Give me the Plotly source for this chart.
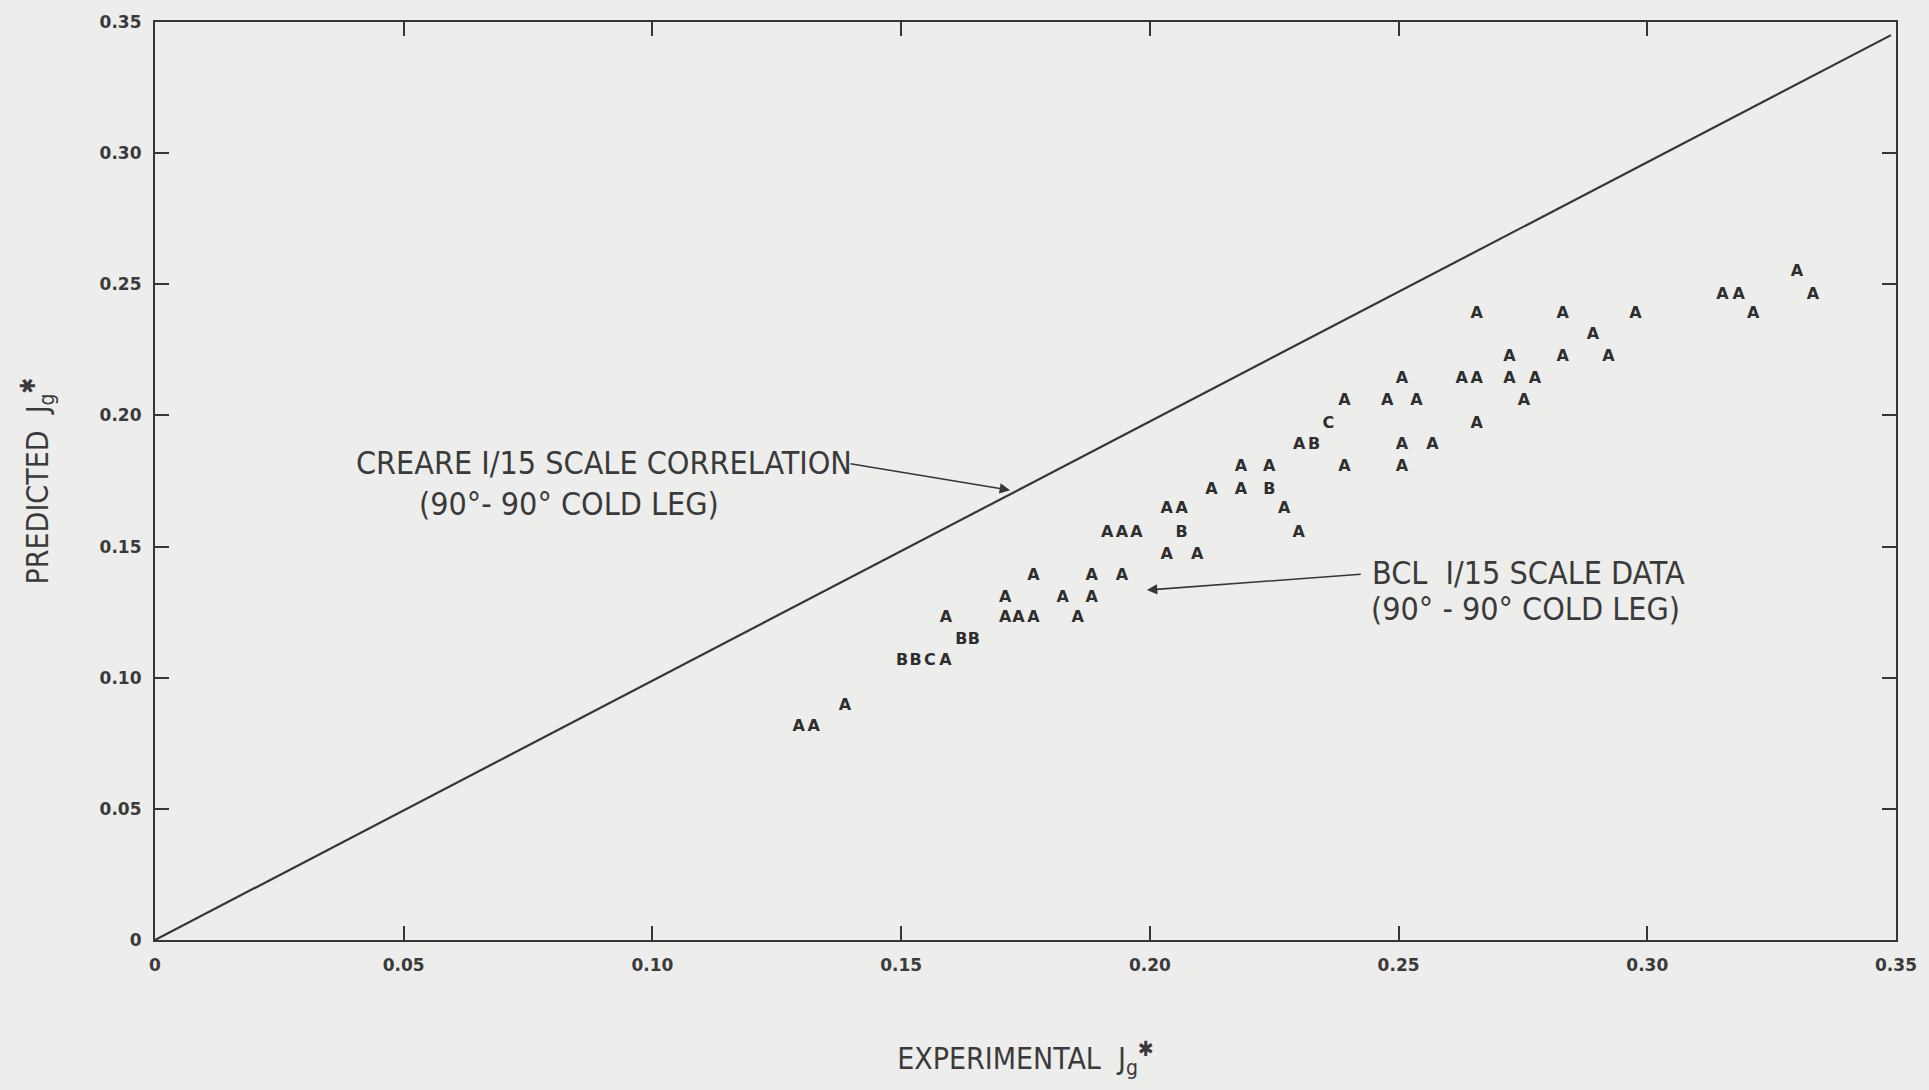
import plotly.graph_objects as go

# ---- data ----
x_experimental = [0.1294, 0.1324, 0.1387, 0.1502, 0.1529, 0.1558, 0.1589, 0.1621, 0.1646,
                  0.1590, 0.1709, 0.1736, 0.1766, 0.1855, 0.1709, 0.1825, 0.1883, 0.1766,
                  0.1883, 0.1944, 0.1914, 0.1944, 0.1973, 0.2034, 0.2064, 0.2064, 0.2034,
                  0.2095, 0.2124, 0.2183, 0.2240, 0.2183, 0.2240, 0.2270, 0.2299, 0.2300,
                  0.2330, 0.2359, 0.2391, 0.2391, 0.2477, 0.2536, 0.2507, 0.2507, 0.2568,
                  0.2507, 0.2627, 0.2657, 0.2657, 0.2657, 0.2723, 0.2723, 0.2752, 0.2774,
                  0.2830, 0.2830, 0.2891, 0.2922, 0.2976, 0.3151, 0.3184, 0.3213, 0.3301,
                  0.3333]
y_predicted = [0.0811, 0.0811, 0.0894, 0.1062, 0.1062, 0.1062, 0.1062, 0.1144, 0.1144,
               0.1228, 0.1228, 0.1228, 0.1228, 0.1228, 0.1305, 0.1305, 0.1305, 0.1389,
               0.1389, 0.1389, 0.1553, 0.1553, 0.1553, 0.1642, 0.1642, 0.1553, 0.1469,
               0.1469, 0.1716, 0.1716, 0.1716, 0.1803, 0.1803, 0.1642, 0.1553, 0.1889,
               0.1889, 0.1969, 0.2055, 0.1803, 0.2055, 0.2055, 0.2140, 0.1889, 0.1889,
               0.1803, 0.2140, 0.2140, 0.2387, 0.1969, 0.2221, 0.2140, 0.2055, 0.2140,
               0.2387, 0.2221, 0.2306, 0.2221, 0.2387, 0.2460, 0.2460, 0.2387, 0.2546,
               0.2460]
point_labels = ["A", "A", "A", "B", "B", "C", "A", "B", "B",
                "A", "A", "A", "A", "A", "A", "A", "A", "A",
                "A", "A", "A", "A", "A", "A", "A", "B", "A",
                "A", "A", "A", "B", "A", "A", "A", "A", "A",
                "B", "C", "A", "A", "A", "A", "A", "A", "A",
                "A", "A", "A", "A", "A", "A", "A", "A", "A",
                "A", "A", "A", "A", "A", "A", "A", "A", "A",
                "A"]

correlation_x = [0.0, 0.349]
correlation_y = [0.0, 0.345]

tick_values = [0, 0.05, 0.10, 0.15, 0.20, 0.25, 0.30, 0.35]
tick_labels = ["0", "0.05", "0.10", "0.15", "0.20", "0.25", "0.30", "0.35"]

# ---- styling ----
BG = "#ededeb"
INK = "#363636"
FONT = "DejaVu Sans, Liberation Sans, Arial, sans-serif"
NARROW = "Liberation Sans Narrow, Arial Narrow, DejaVu Sans Condensed, sans-serif"

fig = go.Figure()

fig.add_trace(go.Scatter(
    x=correlation_x, y=correlation_y, mode="lines",
    line=dict(color=INK, width=2.2), hoverinfo="skip", showlegend=False,
))

fig.add_trace(go.Scatter(
    x=x_experimental, y=y_predicted, mode="text", text=point_labels,
    textposition="middle center",
    textfont=dict(family=FONT, size=16, color="#2e2e2e", weight="bold"),
    showlegend=False,
))

axis_common = dict(
    range=[0, 0.35], tickvals=tick_values, ticktext=tick_labels,
    showgrid=False, zeroline=False, showline=True, linecolor=INK, linewidth=2.2,
    mirror="allticks", ticks="inside", ticklen=14, tickwidth=2, tickcolor=INK,
    tickfont=dict(family=FONT, size=17, color="#3a3a3a", weight="bold"),
    ticklabelstandoff=8,
)

title_font = dict(family=NARROW, size=30, color="#3a3a3a")
fig.update_xaxes(**axis_common,
                 title=dict(text="EXPERIMENTAL  J<sub>g</sub><sup>✱</sup>",
                            font=title_font, standoff=74))
fig.update_yaxes(**axis_common,
                 title=dict(text="PREDICTED  J<sub>g</sub><sup>✱</sup>",
                            font=title_font, standoff=42))

text_font = dict(family=NARROW, size=32, color="#3a3a3a")
annotations = [
    dict(x=0.0401, y=0.1817, text="CREARE I/15 SCALE CORRELATION", showarrow=False,
         xanchor="left", yanchor="middle", font=text_font),
    dict(x=0.0527, y=0.1661, text="(90°- 90° COLD LEG)", showarrow=False,
         xanchor="left", yanchor="middle", font=text_font),
    dict(x=0.2443, y=0.1399, text="BCL  I/15 SCALE DATA", showarrow=False,
         xanchor="left", yanchor="middle", font=text_font),
    dict(x=0.2441, y=0.1262, text="(90° - 90° COLD LEG)", showarrow=False,
         xanchor="left", yanchor="middle", font=text_font),
    dict(x=0.1719, y=0.1715, ax=0.1395, ay=0.1817, xref="x", yref="y",
         axref="x", ayref="y", text="", showarrow=True, arrowhead=2,
         arrowsize=1.3, arrowwidth=1.6, arrowcolor=INK),
    dict(x=0.1994, y=0.1334, ax=0.2427, ay=0.1395, xref="x", yref="y",
         axref="x", ayref="y", text="", showarrow=True, arrowhead=2,
         arrowsize=1.3, arrowwidth=1.6, arrowcolor=INK),
]

fig.update_layout(
    width=1929, height=1090,
    margin=dict(l=155, r=31, t=19, b=150),
    paper_bgcolor=BG, plot_bgcolor=BG,
    annotations=annotations,
    showlegend=False,
)

fig.write_html("out.html")
